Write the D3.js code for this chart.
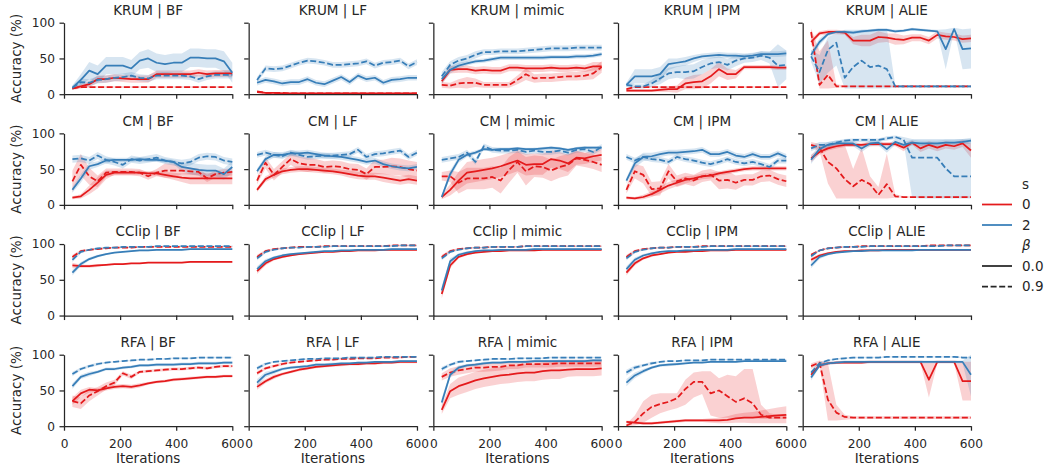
<!DOCTYPE html>
<html><head><meta charset="utf-8">
<script src="https://cdn.jsdelivr.net/npm/d3@7"></script>
<style>
html,body{margin:0;padding:0;background:#fff;}
svg text{font-family:"DejaVu Sans",sans-serif;fill:#262626;}
</style></head>
<body><svg id="chart" width="1045" height="469"></svg>
<script>
// ---------------- DATA ----------------
const iterations = [30,60,90,120,150,180,210,240,270,300,330,360,390,420,450,480,510,540,570,600];
const rowNames = ["KRUM","CM","CClip","RFA"];
const colNames = ["BF","LF","mimic","IPM","ALIE"];
const xTicks = [0,200,400,600];
const yTicks = [0,50,100];
const sLevels = ["0","2"];
const betaLevels = ["0.0","0.9"];

// KRUM
const krum_bf_s0_b0 = [8,11,14,21,21,23,22,21,21,21,28,28,28,28,28,30,28,29,29,29];
const krum_bf_s0_b0_e = [2,3,4,5,5,5,5,5,5,5,5,5,5,5,5,5,5,5,5,5];
const krum_bf_s0_b9 = [8,10,10,10,10,10,10,10,10,10,10,10,10,10,10,10,10,10,10,10];
const krum_bf_s0_b9_e = [1,1,1,1,1,1,1,1,1,1,1,1,1,1,1,1,1,1,1,1];
const krum_bf_s2_b0 = [9,20,33,28,40,40,40,36,47,50,44,42,44,44,51,51,50,50,46,30];
const krum_bf_s2_b0_e = [3,8,12,12,12,12,12,12,12,13,13,13,13,13,13,13,13,13,14,14];
const krum_bf_s2_b9 = [9,17,16,20,21,23,24,26,23,22,26,26,26,26,25,21,25,27,27,27];
const krum_bf_s2_b9_e = [3,5,5,5,5,5,5,5,5,5,5,5,5,5,5,5,5,5,5,5];

const krum_lf_s0_b0 = [3,2,2,1,1,1,1,1,1,1,1,1,1,1,1,1,1,1,1,1];
const krum_lf_s0_b0_e = [1,1,1,1,1,1,1,1,1,1,1,1,1,1,1,1,1,1,1,1];
const krum_lf_s0_b9 = [4,2,2,2,1,1,1,1,1,1,1,1,1,1,1,1,1,1,1,1];
const krum_lf_s0_b9_e = [1,1,1,1,1,1,1,1,1,1,1,1,1,1,1,1,1,1,1,1];
const krum_lf_s2_b0 = [16,20,18,15,17,17,21,16,14,19,24,17,26,21,23,16,20,21,23,23];
const krum_lf_s2_b0_e = [4,4,4,4,4,4,4,4,4,4,4,4,4,4,4,4,4,4,4,4];
const krum_lf_s2_b9 = [20,36,35,36,40,44,47,46,44,41,41,42,43,46,40,44,45,47,39,45];
const krum_lf_s2_b9_e = [4,4,4,4,4,4,4,4,4,4,4,4,4,4,4,4,4,4,4,4];

const krum_mimic_s0_b0 = [18,34,35,35,33,34,33,33,37,37,36,36,36,37,36,36,37,36,39,39];
const krum_mimic_s0_b0_e = [4,5,5,5,5,5,5,5,5,5,5,5,5,5,5,5,5,5,6,6];
const krum_mimic_s0_b9 = [13,12,15,16,16,13,13,13,13,20,28,22,23,23,24,25,25,26,29,38];
const krum_mimic_s0_b9_e = [4,4,6,8,6,4,4,4,4,6,8,6,6,6,6,6,6,6,8,8];
const krum_mimic_s2_b0 = [21,34,40,43,46,47,49,51,51,51,51,51,51,52,52,52,53,53,54,56];
const krum_mimic_s2_b0_e = [6,5,4,3,3,3,3,3,3,3,3,3,3,3,3,3,3,3,3,3];
const krum_mimic_s2_b9 = [25,41,47,50,55,59,59,60,60,60,61,62,63,64,64,64,65,65,65,65];
const krum_mimic_s2_b9_e = [6,5,5,5,5,4,4,4,4,4,4,4,4,4,4,4,4,4,4,4];

const krum_ipm_s0_b0 = [5,5,5,5,6,7,7,15,17,18,25,35,28,28,38,38,38,38,37,37];
const krum_ipm_s0_b0_e = [2,2,2,2,3,4,5,8,10,10,10,10,8,6,3,3,3,3,3,3];
const krum_ipm_s0_b9 = [7,10,10,10,10,10,10,10,10,10,10,10,10,10,10,10,10,10,10,10];
const krum_ipm_s0_b9_e = [1,1,1,1,1,1,1,1,1,1,1,1,1,1,1,1,1,1,1,1];
const krum_ipm_s2_b0 = [13,25,25,25,28,42,44,46,50,53,54,55,54,54,53,54,56,56,56,57];
const krum_ipm_s2_b0_e = [3,10,10,10,10,8,6,6,5,4,4,4,4,4,4,4,4,4,4,4];
const krum_ipm_s2_b9 = [13,11,11,15,22,29,31,31,32,38,43,45,41,47,50,51,54,51,40,41];
const krum_ipm_s2_b9_e = [3,3,3,5,8,8,8,10,10,10,8,8,8,8,6,6,6,8,30,20];

const krum_alie_s0_b0 = [73,85,87,87,86,75,75,75,80,79,77,76,79,79,75,83,81,80,77,78];
const krum_alie_s0_b0_e = [5,3,3,3,3,5,8,8,8,6,8,6,5,5,5,5,5,5,5,5];
const krum_alie_s0_b9 = [87,13,27,11,11,11,11,11,11,11,11,11,11,11,11,11,11,11,11,11];
const krum_alie_s0_b9_lo = [80,8,8,9,10,10,10,10,10,10,10,10,10,10,10,10,10,10,10,10];
const krum_alie_s0_b9_hi = [92,60,75,14,12,12,12,12,12,12,12,12,12,12,12,12,12,12,12,12];
const krum_alie_s2_b0 = [55,73,84,87,87,86,88,89,90,90,88,89,91,90,89,88,63,91,63,64];
const krum_alie_s2_b0_e = [5,5,3,2,2,2,2,2,2,2,2,2,2,2,2,2,28,2,28,28];
const krum_alie_s2_b9 = [53,31,62,72,23,38,47,38,40,35,11,11,11,11,11,11,11,11,11,11];
const krum_alie_s2_b9_lo = [45,15,30,40,8,8,8,8,8,8,9,9,9,9,9,9,9,9,9,9];
const krum_alie_s2_b9_hi = [62,55,80,85,90,90,90,90,92,92,13,13,13,13,13,13,13,13,13,13];

// CM
const cm_bf_s0_b0 = [10,12,21,31,42,45,45,45,45,44,44,42,40,38,37,37,37,37,37,37];
const cm_bf_s0_b0_e = [2,3,6,8,6,3,3,3,3,3,3,4,5,6,8,8,8,8,8,8];
const cm_bf_s0_b9 = [33,56,40,33,45,46,46,46,45,40,45,48,48,48,47,46,37,43,45,46];
const cm_bf_s0_b9_e = [15,15,12,8,6,5,5,5,5,5,5,10,10,5,5,5,5,5,5,5];
const cm_bf_s2_b0 = [21,37,54,57,62,63,63,63,64,63,63,62,60,53,51,49,48,48,43,53];
const cm_bf_s2_b0_e = [4,6,5,4,4,3,3,3,3,3,3,3,3,6,8,8,8,8,8,8];
const cm_bf_s2_b9 = [64,65,62,69,63,60,56,64,62,64,66,62,60,58,60,66,68,67,62,60];
const cm_bf_s2_b9_e = [5,5,5,5,5,5,5,5,5,5,5,5,5,5,5,5,5,5,5,5];

const cm_lf_s0_b0 = [21,36,42,47,49,50,50,49,48,47,45,43,41,40,40,38,36,34,36,34];
const cm_lf_s0_b0_e = [3,4,4,4,4,4,4,4,4,4,4,5,5,5,5,6,6,6,6,6];
const cm_lf_s0_b9 = [34,59,42,53,64,58,56,56,53,54,53,50,49,43,53,53,54,53,50,48];
const cm_lf_s0_b9_e = [5,8,8,8,8,10,10,8,8,8,8,8,8,8,10,10,12,12,12,12];
const cm_lf_s2_b0 = [47,64,70,70,72,72,73,71,69,68,67,65,63,60,62,57,54,52,51,53];
const cm_lf_s2_b0_e = [4,4,4,4,4,4,4,4,4,4,4,4,4,4,4,4,4,4,4,4];
const cm_lf_s2_b9 = [70,73,70,68,73,70,67,68,69,69,70,71,77,67,71,72,74,76,67,73];
const cm_lf_s2_b9_e = [4,4,4,4,4,4,4,4,4,4,4,4,4,4,4,4,4,4,4,4];

const cm_mimic_s0_b0 = [11,21,34,45,47,49,51,54,58,62,56,57,57,64,62,58,66,65,68,70];
const cm_mimic_s0_b0_e = [3,8,12,15,15,15,15,15,15,15,15,15,15,12,12,12,10,8,8,8];
const cm_mimic_s0_b9 = [40,40,31,37,37,37,39,34,49,60,47,54,53,48,53,56,65,63,60,56];
const cm_mimic_s0_b9_e = [6,8,15,15,15,15,15,18,18,15,20,15,15,15,15,15,10,10,10,10];
const cm_mimic_s2_b0 = [11,43,63,70,73,78,77,78,78,79,78,78,79,80,79,77,79,80,80,80];
const cm_mimic_s2_b0_e = [3,5,4,3,3,2,2,2,2,2,2,2,2,2,2,2,2,2,2,2];
const cm_mimic_s2_b9 = [63,65,67,73,60,82,77,76,76,77,74,76,74,74,76,73,77,78,74,81];
const cm_mimic_s2_b9_e = [4,4,4,4,4,4,4,4,4,4,4,4,4,4,4,4,4,4,4,4];

const cm_ipm_s0_b0 = [10,9,11,15,21,27,31,35,37,40,41,44,46,48,50,51,51,51,51,51];
const cm_ipm_s0_b0_e = [2,2,3,4,5,5,5,5,4,4,4,3,3,3,3,3,3,3,3,3];
const cm_ipm_s0_b9 = [21,47,42,22,23,47,33,37,34,40,42,34,35,31,35,35,40,41,36,33];
const cm_ipm_s0_b9_e = [5,10,12,10,10,10,8,8,8,8,8,12,12,10,8,8,8,8,8,8];
const cm_ipm_s2_b0 = [34,58,67,68,71,73,73,74,75,77,71,71,74,69,67,71,67,67,72,67];
const cm_ipm_s2_b0_e = [4,6,6,5,4,4,4,4,4,4,4,4,4,4,4,4,4,4,4,4];
const cm_ipm_s2_b9 = [67,62,67,64,63,60,67,64,62,59,57,60,64,60,58,60,57,53,62,62];
const cm_ipm_s2_b9_e = [4,4,4,4,4,4,4,4,4,4,4,4,4,4,4,4,4,4,4,4];

const cm_alie_s0_b0 = [65,74,79,82,84,84,84,85,85,85,85,80,87,79,84,80,84,82,86,76];
const cm_alie_s0_b0_e = [5,4,3,3,3,3,3,3,3,3,3,5,3,5,5,5,5,5,5,10];
const cm_alie_s0_b9 = [84,80,60,51,36,26,35,29,14,29,12,11,11,11,11,11,11,11,11,11];
const cm_alie_s0_b9_lo = [80,75,30,9,9,9,9,9,9,9,10,10,10,10,10,10,10,10,10,10];
const cm_alie_s0_b9_hi = [88,85,85,85,84,50,80,40,25,72,15,12,12,12,12,12,12,12,12,12];
const cm_alie_s2_b0 = [63,78,84,86,86,86,79,86,87,78,88,84,87,86,86,86,87,87,88,90];
const cm_alie_s2_b0_e = [6,5,4,4,4,4,5,4,4,5,4,4,4,4,4,4,4,4,4,4];
const cm_alie_s2_b9 = [79,84,84,87,90,91,91,91,91,93,95,91,66,66,66,66,51,40,40,40];
const cm_alie_s2_b9_lo = [75,80,80,84,87,88,88,88,88,90,92,88,10,9,9,9,9,9,9,9];
const cm_alie_s2_b9_hi = [83,88,88,90,92,93,93,93,93,96,97,95,92,92,92,92,92,92,92,92];

// CClip
const cclip_bf_s0_b0 = [70,69,69,70,71,72,72,73,73,74,74,74,74,74,75,75,75,75,75,75];
const cclip_bf_s0_b0_e = [4,2,2,2,1,1,1,1,1,1,1,1,1,1,1,1,1,1,1,1];
const cclip_bf_s0_b9 = [82,90,92,93,94,95,95,95,96,96,96,96,96,96,96,96,96,96,96,96];
const cclip_bf_s0_b9_e = [3,2,1,1,1,1,1,1,1,1,1,1,1,1,1,1,1,1,1,1];
const cclip_bf_s2_b0 = [60,72,79,83,86,88,89,90,91,91,92,92,92,92,93,93,93,93,93,93];
const cclip_bf_s2_b0_e = [4,3,2,2,1,1,1,1,1,1,1,1,1,1,1,1,1,1,1,1];
const cclip_bf_s2_b9 = [78,89,92,94,95,95,96,96,96,96,97,97,97,97,97,97,97,97,97,97];
const cclip_bf_s2_b9_e = [3,2,1,1,1,1,1,1,1,1,1,1,1,1,1,1,1,1,1,1];

const cclip_lf_s0_b0 = [62,73,79,82,84,86,87,88,89,89,90,90,91,91,91,92,92,92,92,92];
const cclip_lf_s0_b0_e = [4,3,2,2,1,1,1,1,1,1,1,1,1,1,1,1,1,1,1,1];
const cclip_lf_s0_b9 = [82,90,93,94,95,96,96,96,97,97,97,97,97,97,97,97,98,98,98,98];
const cclip_lf_s0_b9_e = [3,2,1,1,1,1,1,1,1,1,1,1,1,1,1,1,1,1,1,1];
const cclip_lf_s2_b0 = [65,76,81,84,86,87,88,89,90,90,91,91,92,92,92,92,93,93,93,93];
const cclip_lf_s2_b0_e = [4,3,2,2,1,1,1,1,1,1,1,1,1,1,1,1,1,1,1,1];
const cclip_lf_s2_b9 = [80,89,92,94,95,95,96,96,96,97,97,97,97,97,97,97,97,98,98,98];
const cclip_lf_s2_b9_e = [3,2,1,1,1,1,1,1,1,1,1,1,1,1,1,1,1,1,1,1];

const cclip_mimic_s0_b0 = [30,70,82,86,88,89,90,90,91,91,91,91,92,92,92,92,92,92,92,92];
const cclip_mimic_s0_b0_e = [6,4,2,2,1,1,1,1,1,1,1,1,1,1,1,1,1,1,1,1];
const cclip_mimic_s0_b9 = [82,90,93,94,95,95,96,96,96,96,97,97,97,97,97,97,97,97,97,97];
const cclip_mimic_s0_b9_e = [3,2,1,1,1,1,1,1,1,1,1,1,1,1,1,1,1,1,1,1];
const cclip_mimic_s2_b0 = [35,76,85,88,90,91,91,92,92,92,92,93,93,93,93,93,93,93,93,93];
const cclip_mimic_s2_b0_e = [6,4,2,2,1,1,1,1,1,1,1,1,1,1,1,1,1,1,1,1];
const cclip_mimic_s2_b9 = [80,89,92,94,95,95,96,96,96,96,97,97,97,97,97,97,97,97,97,97];
const cclip_mimic_s2_b9_e = [3,2,1,1,1,1,1,1,1,1,1,1,1,1,1,1,1,1,1,1];

const cclip_ipm_s0_b0 = [60,73,80,84,86,88,89,89,90,90,91,91,91,92,92,92,92,92,92,92];
const cclip_ipm_s0_b0_e = [4,3,2,2,1,1,1,1,1,1,1,1,1,1,1,1,1,1,1,1];
const cclip_ipm_s0_b9 = [82,90,93,94,95,95,96,96,96,97,97,97,97,97,97,97,97,97,97,97];
const cclip_ipm_s0_b9_e = [3,2,1,1,1,1,1,1,1,1,1,1,1,1,1,1,1,1,1,1];
const cclip_ipm_s2_b0 = [65,78,84,87,89,90,90,91,91,92,92,92,92,93,93,93,93,93,93,93];
const cclip_ipm_s2_b0_e = [4,3,2,2,1,1,1,1,1,1,1,1,1,1,1,1,1,1,1,1];
const cclip_ipm_s2_b9 = [80,89,92,94,95,95,96,96,96,96,97,97,97,97,97,97,97,97,97,97];
const cclip_ipm_s2_b9_e = [3,2,1,1,1,1,1,1,1,1,1,1,1,1,1,1,1,1,1,1];

const cclip_alie_s0_b0 = [78,84,87,89,90,90,91,91,91,92,92,92,92,92,92,92,92,92,92,92];
const cclip_alie_s0_b0_e = [3,2,2,1,1,1,1,1,1,1,1,1,1,1,1,1,1,1,1,1];
const cclip_alie_s0_b9 = [85,91,94,95,96,96,97,97,97,97,97,97,97,97,98,98,98,98,98,98];
const cclip_alie_s0_b9_e = [2,1,1,1,1,1,1,1,1,1,1,1,1,1,1,1,1,1,1,1];
const cclip_alie_s2_b0 = [70,82,86,88,89,90,90,91,91,91,91,91,91,92,92,92,92,92,92,92];
const cclip_alie_s2_b0_e = [4,3,2,1,1,1,1,1,1,1,1,1,1,1,1,1,1,1,1,1];
const cclip_alie_s2_b9 = [83,91,94,95,96,96,96,97,97,97,97,97,97,97,97,97,98,98,98,98];
const cclip_alie_s2_b9_e = [2,1,1,1,1,1,1,1,1,1,1,1,1,1,1,1,1,1,1,1];

// RFA
const rfa_bf_s0_b0 = [35,46,51,50,53,55,56,55,57,60,62,63,65,66,67,68,69,69,70,70];
const rfa_bf_s0_b0_e = [5,5,4,3,3,3,3,3,3,2,2,2,2,2,2,2,2,2,2,2];
const rfa_bf_s0_b9 = [35,32,43,49,56,61,74,69,76,77,78,79,80,80,81,82,81,83,84,84];
const rfa_bf_s0_b9_e = [8,8,8,6,5,4,3,3,2,2,2,2,2,2,2,2,2,2,2,2];
const rfa_bf_s2_b0 = [56,69,73,76,80,80,82,83,85,85,86,86,86,87,87,88,88,88,89,89];
const rfa_bf_s2_b0_e = [4,3,3,2,2,2,2,2,2,2,2,2,2,2,2,2,2,2,2,2];
const rfa_bf_s2_b9 = [73,80,84,87,89,90,91,92,93,93,94,94,95,95,95,96,96,96,96,96];
const rfa_bf_s2_b9_e = [3,2,2,2,1,1,1,1,1,1,1,1,1,1,1,1,1,1,1,1];

const rfa_lf_s0_b0 = [55,63,69,73,76,79,81,83,84,85,86,87,87,88,88,89,89,90,90,90];
const rfa_lf_s0_b0_e = [4,3,3,2,2,2,2,2,2,2,2,2,2,2,2,2,2,2,2,2];
const rfa_lf_s0_b9 = [74,81,84,87,89,90,91,92,93,93,94,94,95,95,95,96,96,96,97,97];
const rfa_lf_s0_b9_e = [3,2,2,2,1,1,1,1,1,1,1,1,1,1,1,1,1,1,1,1];
const rfa_lf_s2_b0 = [61,72,76,80,82,83,84,86,86,87,88,88,89,89,90,90,90,91,91,91];
const rfa_lf_s2_b0_e = [5,4,3,2,2,2,2,2,2,2,1,1,1,1,1,1,1,1,1,1];
const rfa_lf_s2_b9 = [81,87,90,91,92,93,94,94,95,95,95,96,96,96,96,97,97,97,97,97];
const rfa_lf_s2_b9_e = [3,2,1,1,1,1,1,1,1,1,1,1,1,1,1,1,1,1,1,1];

const rfa_mimic_s0_b0 = [23,49,56,60,64,67,69,71,72,74,75,75,77,78,78,79,80,80,80,81];
const rfa_mimic_s0_b0_e = [6,10,12,12,12,12,12,12,12,12,12,12,12,12,12,10,10,10,10,10];
const rfa_mimic_s0_b9 = [69,75,78,80,82,82,83,83,85,85,87,87,87,87,88,88,88,88,88,88];
const rfa_mimic_s0_b9_e = [5,6,6,6,6,6,6,5,5,5,5,5,5,5,5,5,5,5,5,5];
const rfa_mimic_s2_b0 = [33,72,82,85,86,88,89,89,90,90,90,91,91,91,91,91,91,91,92,92];
const rfa_mimic_s2_b0_e = [6,4,3,2,2,2,2,2,2,2,2,2,2,2,2,2,2,2,2,2];
const rfa_mimic_s2_b9 = [80,86,90,91,92,93,94,94,94,95,95,95,95,96,96,96,96,96,96,96];
const rfa_mimic_s2_b9_e = [3,2,2,1,1,1,1,1,1,1,1,1,1,1,1,1,1,1,1,1];

const rfa_ipm_s0_b0 = [6,5,4,4,5,6,7,8,8,8,8,8,9,11,12,12,13,14,15,16];
const rfa_ipm_s0_b0_e = [2,2,2,2,2,2,2,2,2,2,3,4,5,6,7,8,9,10,11,12];
const rfa_ipm_s0_b9 = [1,6,18,27,31,34,39,52,62,62,46,50,42,34,39,32,16,12,12,12];
const rfa_ipm_s0_b9_lo = [0,1,5,12,18,22,25,30,40,45,15,12,12,12,12,12,10,10,10,10];
const rfa_ipm_s0_b9_hi = [3,15,35,44,46,46,46,65,75,77,77,67,72,70,80,80,30,18,16,16];
const rfa_ipm_s2_b0 = [61,71,77,82,85,86,87,88,89,89,90,90,90,90,91,91,91,91,91,91];
const rfa_ipm_s2_b0_e = [5,4,3,2,2,2,2,1,1,1,1,1,1,1,1,1,1,1,1,1];
const rfa_ipm_s2_b9 = [75,82,85,88,90,91,91,92,92,92,93,93,93,93,93,93,93,93,93,93];
const rfa_ipm_s2_b9_e = [4,3,2,2,1,1,1,1,1,1,1,1,1,1,1,1,1,1,1,1];

const rfa_alie_s0_b0 = [72,85,88,89,89,89,89,90,90,90,90,90,90,90,65,90,90,90,63,63];
const rfa_alie_s0_b0_e = [4,3,2,2,2,2,2,2,2,2,2,2,2,2,25,2,2,2,27,27];
const rfa_alie_s0_b9 = [84,89,37,19,13,12,12,12,12,12,12,12,12,12,12,12,12,12,12,12];
const rfa_alie_s0_b9_lo = [80,86,8,8,9,10,10,10,10,10,10,10,10,10,10,10,10,10,10,10];
const rfa_alie_s0_b9_hi = [88,92,88,30,16,14,14,14,14,14,14,14,14,14,14,14,14,14,14,14];
const rfa_alie_s2_b0 = [68,85,88,89,90,90,90,90,90,90,90,90,90,90,90,90,90,90,90,72];
const rfa_alie_s2_b0_e = [4,3,2,2,2,2,2,2,2,2,2,2,2,2,2,2,2,2,2,30];
const rfa_alie_s2_b9 = [75,88,92,94,95,96,96,96,96,97,97,97,97,97,97,97,97,97,96,96];
const rfa_alie_s2_b9_e = [3,2,1,1,1,1,1,1,1,1,1,1,1,1,1,1,1,1,1,1];

// ------------- TABLE built from the arrays -------------
function S(mean, e, lo, hi){ return {mean, e, lo, hi}; }
const table = {
  "KRUM|BF":[S(krum_bf_s0_b0,krum_bf_s0_b0_e),S(krum_bf_s0_b9,krum_bf_s0_b9_e),S(krum_bf_s2_b0,krum_bf_s2_b0_e),S(krum_bf_s2_b9,krum_bf_s2_b9_e)],
  "KRUM|LF":[S(krum_lf_s0_b0,krum_lf_s0_b0_e),S(krum_lf_s0_b9,krum_lf_s0_b9_e),S(krum_lf_s2_b0,krum_lf_s2_b0_e),S(krum_lf_s2_b9,krum_lf_s2_b9_e)],
  "KRUM|mimic":[S(krum_mimic_s0_b0,krum_mimic_s0_b0_e),S(krum_mimic_s0_b9,krum_mimic_s0_b9_e),S(krum_mimic_s2_b0,krum_mimic_s2_b0_e),S(krum_mimic_s2_b9,krum_mimic_s2_b9_e)],
  "KRUM|IPM":[S(krum_ipm_s0_b0,krum_ipm_s0_b0_e),S(krum_ipm_s0_b9,krum_ipm_s0_b9_e),S(krum_ipm_s2_b0,krum_ipm_s2_b0_e),S(krum_ipm_s2_b9,krum_ipm_s2_b9_e)],
  "KRUM|ALIE":[S(krum_alie_s0_b0,krum_alie_s0_b0_e),S(krum_alie_s0_b9,null,krum_alie_s0_b9_lo,krum_alie_s0_b9_hi),S(krum_alie_s2_b0,krum_alie_s2_b0_e),S(krum_alie_s2_b9,null,krum_alie_s2_b9_lo,krum_alie_s2_b9_hi)],
  "CM|BF":[S(cm_bf_s0_b0,cm_bf_s0_b0_e),S(cm_bf_s0_b9,cm_bf_s0_b9_e),S(cm_bf_s2_b0,cm_bf_s2_b0_e),S(cm_bf_s2_b9,cm_bf_s2_b9_e)],
  "CM|LF":[S(cm_lf_s0_b0,cm_lf_s0_b0_e),S(cm_lf_s0_b9,cm_lf_s0_b9_e),S(cm_lf_s2_b0,cm_lf_s2_b0_e),S(cm_lf_s2_b9,cm_lf_s2_b9_e)],
  "CM|mimic":[S(cm_mimic_s0_b0,cm_mimic_s0_b0_e),S(cm_mimic_s0_b9,cm_mimic_s0_b9_e),S(cm_mimic_s2_b0,cm_mimic_s2_b0_e),S(cm_mimic_s2_b9,cm_mimic_s2_b9_e)],
  "CM|IPM":[S(cm_ipm_s0_b0,cm_ipm_s0_b0_e),S(cm_ipm_s0_b9,cm_ipm_s0_b9_e),S(cm_ipm_s2_b0,cm_ipm_s2_b0_e),S(cm_ipm_s2_b9,cm_ipm_s2_b9_e)],
  "CM|ALIE":[S(cm_alie_s0_b0,cm_alie_s0_b0_e),S(cm_alie_s0_b9,null,cm_alie_s0_b9_lo,cm_alie_s0_b9_hi),S(cm_alie_s2_b0,cm_alie_s2_b0_e),S(cm_alie_s2_b9,null,cm_alie_s2_b9_lo,cm_alie_s2_b9_hi)],
  "CClip|BF":[S(cclip_bf_s0_b0,cclip_bf_s0_b0_e),S(cclip_bf_s0_b9,cclip_bf_s0_b9_e),S(cclip_bf_s2_b0,cclip_bf_s2_b0_e),S(cclip_bf_s2_b9,cclip_bf_s2_b9_e)],
  "CClip|LF":[S(cclip_lf_s0_b0,cclip_lf_s0_b0_e),S(cclip_lf_s0_b9,cclip_lf_s0_b9_e),S(cclip_lf_s2_b0,cclip_lf_s2_b0_e),S(cclip_lf_s2_b9,cclip_lf_s2_b9_e)],
  "CClip|mimic":[S(cclip_mimic_s0_b0,cclip_mimic_s0_b0_e),S(cclip_mimic_s0_b9,cclip_mimic_s0_b9_e),S(cclip_mimic_s2_b0,cclip_mimic_s2_b0_e),S(cclip_mimic_s2_b9,cclip_mimic_s2_b9_e)],
  "CClip|IPM":[S(cclip_ipm_s0_b0,cclip_ipm_s0_b0_e),S(cclip_ipm_s0_b9,cclip_ipm_s0_b9_e),S(cclip_ipm_s2_b0,cclip_ipm_s2_b0_e),S(cclip_ipm_s2_b9,cclip_ipm_s2_b9_e)],
  "CClip|ALIE":[S(cclip_alie_s0_b0,cclip_alie_s0_b0_e),S(cclip_alie_s0_b9,cclip_alie_s0_b9_e),S(cclip_alie_s2_b0,cclip_alie_s2_b0_e),S(cclip_alie_s2_b9,cclip_alie_s2_b9_e)],
  "RFA|BF":[S(rfa_bf_s0_b0,rfa_bf_s0_b0_e),S(rfa_bf_s0_b9,rfa_bf_s0_b9_e),S(rfa_bf_s2_b0,rfa_bf_s2_b0_e),S(rfa_bf_s2_b9,rfa_bf_s2_b9_e)],
  "RFA|LF":[S(rfa_lf_s0_b0,rfa_lf_s0_b0_e),S(rfa_lf_s0_b9,rfa_lf_s0_b9_e),S(rfa_lf_s2_b0,rfa_lf_s2_b0_e),S(rfa_lf_s2_b9,rfa_lf_s2_b9_e)],
  "RFA|mimic":[S(rfa_mimic_s0_b0,rfa_mimic_s0_b0_e),S(rfa_mimic_s0_b9,rfa_mimic_s0_b9_e),S(rfa_mimic_s2_b0,rfa_mimic_s2_b0_e),S(rfa_mimic_s2_b9,rfa_mimic_s2_b9_e)],
  "RFA|IPM":[S(rfa_ipm_s0_b0,rfa_ipm_s0_b0_e),S(rfa_ipm_s0_b9,null,rfa_ipm_s0_b9_lo,rfa_ipm_s0_b9_hi),S(rfa_ipm_s2_b0,rfa_ipm_s2_b0_e),S(rfa_ipm_s2_b9,rfa_ipm_s2_b9_e)],
  "RFA|ALIE":[S(rfa_alie_s0_b0,rfa_alie_s0_b0_e),S(rfa_alie_s0_b9,null,rfa_alie_s0_b9_lo,rfa_alie_s0_b9_hi),S(rfa_alie_s2_b0,rfa_alie_s2_b0_e),S(rfa_alie_s2_b9,rfa_alie_s2_b9_e)]
};
// series order in each entry: (s=0,β=0.0),(s=0,β=0.9),(s=2,β=0.0),(s=2,β=0.9)
const seriesMeta = [{s:0,b:0},{s:0,b:1},{s:1,b:0},{s:1,b:1}];

// ---------------- STYLE / LAYOUT ----------------
const colors = ["#e41a1c","#377eb8"];
const dashes = [null,"6,2.6"];
const ink = "#262626";
const col0 = 64, colStep = 184.67, pw = 168.3;
const row0 = 22.7, rowStep = 110.67, ph = 71.5;

const svg = d3.select("#chart");
const x = d3.scaleLinear().domain([0,600]).range([0,pw]);
const y = d3.scaleLinear().domain([0,100]).range([ph,0]);
const clamp = v => Math.max(0, Math.min(100, v));

rowNames.forEach((rn, r) => {
  colNames.forEach((cn, c) => {
    const g = svg.append("g").attr("transform", `translate(${col0 + c*colStep},${row0 + r*rowStep})`);
    const series = table[rn + "|" + cn];

    // bands
    series.forEach((sd, i) => {
      const m = seriesMeta[i];
      const pts = iterations.map((it, k) => {
        const lo = sd.lo ? sd.lo[k] : sd.mean[k] - sd.e[k];
        const hi = sd.hi ? sd.hi[k] : sd.mean[k] + sd.e[k];
        return {it, lo: clamp(lo), hi: clamp(hi)};
      });
      g.append("path").datum(pts)
        .attr("d", d3.area().x(d => x(d.it)).y0(d => y(d.lo)).y1(d => y(d.hi)))
        .attr("fill", colors[m.s]).attr("fill-opacity", 0.2).attr("stroke","none");
    });
    // lines
    series.forEach((sd, i) => {
      const m = seriesMeta[i];
      const pts = iterations.map((it, k) => ({it, v: sd.mean[k]}));
      g.append("path").datum(pts)
        .attr("d", d3.line().x(d => x(d.it)).y(d => y(d.v)))
        .attr("fill","none").attr("stroke", colors[m.s]).attr("stroke-width", 1.75)
        .attr("stroke-dasharray", dashes[m.b]).attr("stroke-linejoin","round");
    });

    // axes
    const ya = d3.axisLeft(y).tickValues(yTicks).tickSize(4.5).tickSizeOuter(0).tickPadding(4.5)
      .tickFormat(c === 0 ? d3.format("d") : () => "");
    const yg = g.append("g").call(ya);
    const xa = d3.axisBottom(x).tickValues(xTicks).tickSize(4.5).tickSizeOuter(0).tickPadding(8.3)
      .tickFormat(r === rowNames.length - 1 ? d3.format("d") : () => "");
    const xg = g.append("g").attr("transform", `translate(0,${ph})`).call(xa);
    [yg, xg].forEach(a => {
      a.selectAll(".domain").attr("stroke", ink).attr("stroke-width", 1.25);
      a.selectAll(".tick line").attr("stroke", ink).attr("stroke-width", 1.25);
      a.selectAll("text").attr("font-size", 12.2).attr("fill", ink).attr("font-family", "DejaVu Sans");
    });

    // title
    g.append("text").attr("x", pw/2).attr("y", -7.6).attr("text-anchor","middle")
      .attr("font-size", 13.5).text(`${rn} | ${cn}`);

    if (c === 0) {
      g.append("text").attr("transform", `translate(${20.5 - (col0)},${ph/2}) rotate(-90)`)
        .attr("text-anchor","middle").attr("font-size", 13.5).text("Accuracy (%)");
    }
    if (r === rowNames.length - 1) {
      g.append("text").attr("x", pw/2).attr("y", ph + 37).attr("text-anchor","middle")
        .attr("font-size", 13.5).text("Iterations");
    }
  });
});

// ---------------- LEGEND ----------------
const lg = svg.append("g");
const lx1 = 982, lx2 = 1012, tx = 1022;
const entries = [
  {type:"title", label:"s", yy:184},
  {type:"line", label:sLevels[0], color:colors[0], dash:null, yy:204.5},
  {type:"line", label:sLevels[1], color:colors[1], dash:null, yy:225},
  {type:"title", label:"β", yy:245.5, italic:true},
  {type:"line", label:betaLevels[0], color:ink, dash:null, yy:266},
  {type:"line", label:betaLevels[1], color:ink, dash:"6,2.6", yy:286.5}
];
entries.forEach(e => {
  if (e.type === "line") {
    lg.append("line").attr("x1", lx1).attr("x2", lx2).attr("y1", e.yy).attr("y2", e.yy)
      .attr("stroke", e.color).attr("stroke-width", 1.75).attr("stroke-dasharray", e.dash);
  }
  lg.append("text").attr("x", tx).attr("y", e.yy).attr("dy", "0.35em").attr("font-size", 13.5)
    .attr("font-style", e.italic ? "italic" : null).text(e.label);
});
</script></body></html>
